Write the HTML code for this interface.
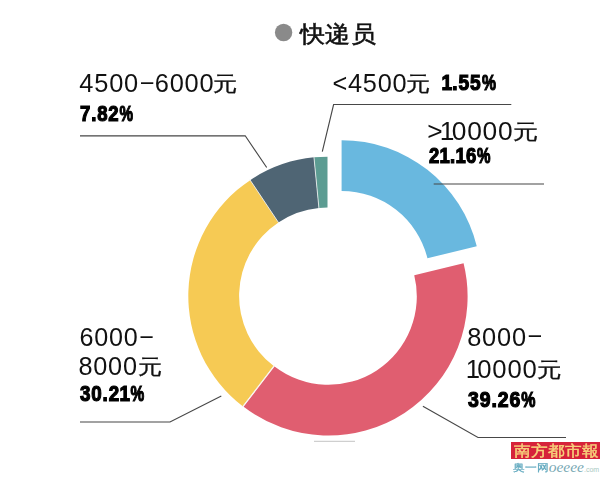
<!DOCTYPE html>
<html><head><meta charset="utf-8"><style>
html,body{margin:0;padding:0;background:#fff;}
body{width:600px;height:477px;position:relative;overflow:hidden;font-family:"Liberation Sans",sans-serif;color:#1a1a1a;}
.t{position:absolute;white-space:nowrap;line-height:1;}
.lab,.pc,.ttl{filter:grayscale(1);}
.lab{font-size:25.5px;letter-spacing:0.8px;color:#111;}
.pc{font-size:21.6px;font-weight:bold;color:#000;letter-spacing:1.0px;transform-origin:0 0;-webkit-text-stroke:1.2px #000;}
svg{position:absolute;left:0;top:0;}
.lab .n1{margin:0 -3.5px;}
.n1.lead{margin-left:0;}
.pct{display:inline-block;transform-origin:0 0;transform:scaleX(0.82);}
.dash{display:inline-block;position:relative;top:-2.3px;margin-left:0.8px;transform:scaleX(0.87);}
.pc .n1{margin:0 -0.7px;}
.yuan{display:inline-block;transform:scale(0.95,0.82);margin-left:-1.2px;-webkit-text-stroke:0.4px;}
</style></head><body>
<svg width="600" height="477" viewBox="0 0 600 477">
<path d="M341.60,140.20 A139.2,139.2 0 0 1 476.77,246.14 L427.44,258.28 A88.4,88.4 0 0 0 341.60,191.00 Z" fill="#69B8DF"/>
<path d="M463.57,263.14 A139.2,139.2 0 0 1 243.64,406.82 L274.57,366.52 A88.4,88.4 0 0 0 414.24,275.28 Z" fill="#E05E70"/>
<path d="M242.74,406.32 A139.2,139.2 0 0 1 250.20,180.14 L278.41,222.38 A88.4,88.4 0 0 0 273.67,366.02 Z" fill="#F6CA54"/>
<path d="M250.20,180.14 A139.2,139.2 0 0 1 313.96,157.36 L318.90,207.92 A88.4,88.4 0 0 0 278.41,222.38 Z" fill="#4F6574"/>
<path d="M313.96,157.36 A139.2,139.2 0 0 1 327.50,156.70 L327.50,207.50 A88.4,88.4 0 0 0 318.90,207.92 Z" fill="#5C9C92"/>
<line x1="274.28" y1="365.23" x2="242.13" y2="407.11" stroke="#f4f4f4" stroke-width="0.8"/>
<line x1="278.97" y1="223.21" x2="249.65" y2="179.30" stroke="#f4f4f4" stroke-width="0.8"/>
<line x1="319.00" y1="208.91" x2="313.87" y2="156.36" stroke="#f4f4f4" stroke-width="0.8"/>
<g fill="none" stroke="#474747" stroke-width="1.15">
<polyline points="80,135.8 245.2,135.8 266.7,167.5"/>
<polyline points="511.3,104.5 333.6,104.5 322.3,151.6"/>
<polyline points="433.7,184 544,184"/>
<polyline points="80,422 170,422 221.3,396.1"/>
<polyline points="422.9,406.2 478,437.5 566,437.5"/>
</g>
<line x1="314" y1="441.3" x2="355" y2="441.3" stroke="#c4c4c4" stroke-width="1"/>
<circle cx="283.6" cy="32.5" r="8.7" fill="#8a8a8a"/>
</svg>
<div class="t ttl" style="left:299.5px;top:21.8px;font-size:26px;font-weight:400;color:#111;-webkit-text-stroke:0.6px #111;transform-origin:0 0;transform:scale(0.98,0.9);">快递员</div>
<div class="t lab" style="left:79.04px;top:71.38px;transform:scaleX(0.9963);">4500<span class="dash">–</span>6000<span class="yuan">元</span></div>
<div class="t pc" style="left:79.7px;top:103.42px;transform:scaleX(0.8585);">7.82<span class="pct">%</span></div>
<div class="t lab" style="left:331.72px;top:71.01px;transform:scaleX(0.992);">&lt;4500<span class="yuan">元</span></div>
<div class="t pc" style="left:442.08px;top:72.0px;transform:scaleX(0.8868);"><span class="n1 lead">1</span>.55<span class="pct">%</span></div>
<div class="t lab" style="left:429.2px;top:119.0px;transform:scaleX(1.0332);">&gt;<span class="n1">1</span>0000<span class="yuan">元</span></div>
<div class="t pc" style="left:428.72px;top:144.58px;transform:scaleX(0.8553);">2<span class="n1">1</span>.<span class="n1">1</span>6<span class="pct">%</span></div>
<div class="t lab" style="left:78.58px;top:324.89px;transform:scaleX(0.9854);">6000<span class="dash">–</span></div>
<div class="t lab" style="left:78.46px;top:354.17px;transform:scaleX(0.99);">8000<span class="yuan">元</span></div>
<div class="t pc" style="left:80.38px;top:382.96px;transform:scaleX(0.8692);">30.2<span class="n1">1</span><span class="pct">%</span></div>
<div class="t lab" style="left:466.52px;top:324.62px;transform:scaleX(0.9953);">8000<span class="dash">–</span></div>
<div class="t lab" style="left:465.66px;top:356.53px;transform:scaleX(1.0061);"><span class="n1 lead">1</span>0000<span class="yuan">元</span></div>
<div class="t pc" style="left:467.56px;top:389.29px;transform:scaleX(0.9012);">39.26<span class="pct">%</span></div>
<div class="t" style="left:511px;top:441.5px;width:89px;height:17.3px;background:#D6223A;"></div>
<div class="t" style="left:513.5px;top:444px;font-size:16.8px;color:#F7D27C;font-weight:normal;-webkit-text-stroke:0.5px #F7D27C;letter-spacing:0px;transform-origin:0 0;transform:scaleY(0.9);">南方都市報</div>
<div class="t" style="left:513px;top:458.7px;font-size:11.3px;color:#5FA8BE;font-weight:normal;-webkit-text-stroke:0.3px #5FA8BE;letter-spacing:0.9px;"><span style="display:inline-block;transform:scaleY(0.85);">奥一网</span><span style="font-family:'Liberation Serif',serif;font-style:italic;font-weight:normal;-webkit-text-stroke:0;font-size:15.5px;letter-spacing:0;color:#78A8B4;">oeeee</span><span style="font-size:7px;font-weight:normal;-webkit-text-stroke:0;letter-spacing:0;color:#a9c8c2;">.com</span></div>
</body></html>
